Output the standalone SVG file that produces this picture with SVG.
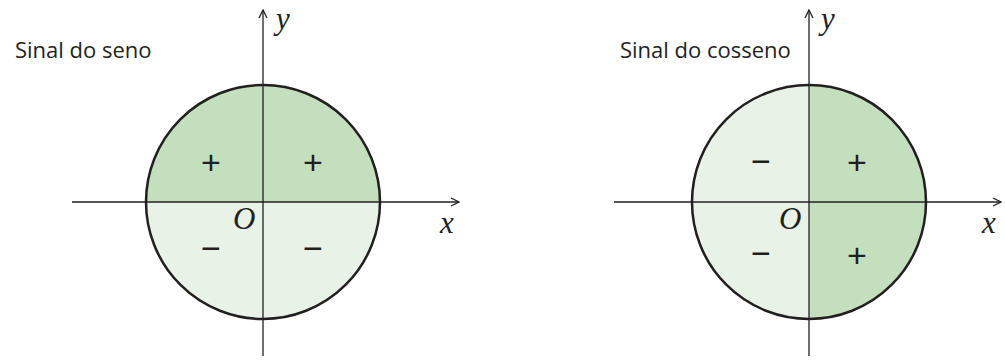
<svg xmlns="http://www.w3.org/2000/svg" width="1005" height="364" viewBox="0 0 1005 364">
<style>
.t{font-family:"Open Sans","Liberation Sans",sans-serif;font-size:22px;fill:#231f20}
.v{font-family:"Liberation Serif",serif;font-style:italic;font-size:31px;fill:#231f20}
.s{font-family:"Liberation Sans",sans-serif;font-size:34px;fill:#231f20;text-anchor:middle}
.ax{stroke:#231f20;stroke-width:1.3;fill:none}
.c{stroke:#231f20;stroke-width:2.5;fill:none}
.d{fill:#c4dfbd}
.l{fill:#e8f2e6}
</style>
<defs>
<marker id="ah" viewBox="0 0 10 10" refX="9" refY="5" markerWidth="10" markerHeight="10" markerUnits="userSpaceOnUse" orient="auto">
<path d="M1,1 L9,5 L1,9" fill="none" stroke="#231f20" stroke-width="1.3"/>
</marker>
</defs>
<g id="seno">
<text class="t" x="15" y="58">Sinal do seno</text>
<path class="d" d="M146,202 A117,117 0 0 1 380,202 Z"/>
<path class="l" d="M146,202 A117,117 0 0 0 380,202 Z"/>
<circle class="c" cx="263" cy="202" r="117"/>
<text class="s" x="211" y="174">+</text>
<text class="s" x="313" y="174">+</text>
<text class="s" x="211" y="260">−</text>
<text class="s" x="313" y="260">−</text>
<text class="v" x="233" y="229">O</text>
<text class="v" x="276" y="29">y</text>
<text class="v" x="440" y="233">x</text>
</g>
<g id="cosseno">
<text class="t" x="620" y="58">Sinal do cosseno</text>
<path class="l" d="M809,85 A117,117 0 0 0 809,319 Z"/>
<path class="d" d="M809,85 A117,117 0 0 1 809,319 Z"/>
<circle class="c" cx="809" cy="202" r="117"/>
<text class="s" x="761" y="173">−</text>
<text class="s" x="857" y="174">+</text>
<text class="s" x="761" y="265">−</text>
<text class="s" x="857" y="267">+</text>
<text class="v" x="779" y="229">O</text>
<text class="v" x="821" y="29">y</text>
<text class="v" x="982" y="233">x</text>
</g>
<g id="connectors">
<line class="ax" x1="72" y1="202" x2="459" y2="202" marker-end="url(#ah)"/>
<line class="ax" x1="263" y1="356" x2="263" y2="10" marker-end="url(#ah)"/>
<line class="ax" x1="614" y1="202" x2="1001" y2="202" marker-end="url(#ah)"/>
<line class="ax" x1="809" y1="356" x2="809" y2="10" marker-end="url(#ah)"/>
</g>
</svg>
